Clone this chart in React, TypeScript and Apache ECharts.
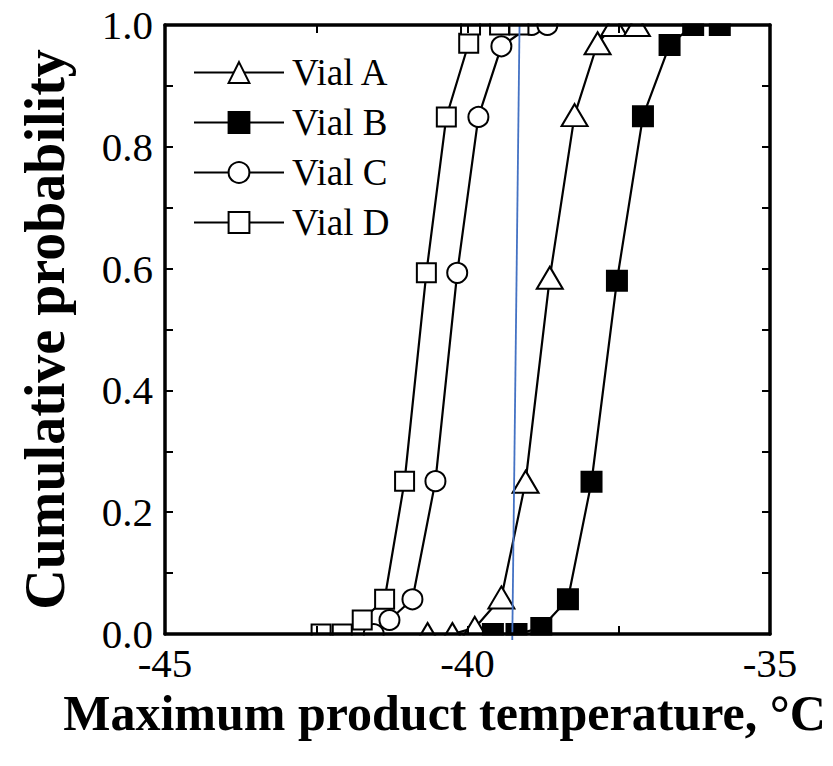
import React, { useEffect, useRef } from "react";
import * as echarts from "echarts";

const seriesNames = ["Vial A", "Vial B", "Vial C", "Vial D"];

const vialA: [number, number][] = [
  [-40.66, 0.0], [-40.25, 0.0], [-39.88, 0.01], [-39.44, 0.06], [-39.04, 0.25],
  [-38.64, 0.585], [-38.23, 0.852], [-37.85, 0.97], [-37.58, 1.0], [-37.2, 1.0],
];
const vialB: [number, number][] = [
  [-39.58, 0.0], [-39.19, 0.0], [-38.78, 0.01], [-38.34, 0.057], [-37.95, 0.25],
  [-37.53, 0.58], [-37.1, 0.85], [-36.66, 0.967], [-36.27, 1.0], [-35.83, 1.0],
];
const vialC: [number, number][] = [
  [-41.55, 0.0], [-41.29, 0.023], [-40.91, 0.057], [-40.53, 0.251], [-40.17, 0.593],
  [-39.82, 0.849], [-39.44, 0.965], [-38.94, 1.0], [-38.68, 1.0],
];
const vialD: [number, number][] = [
  [-42.42, 0.0], [-42.07, 0.0], [-41.74, 0.023], [-41.37, 0.057], [-41.04, 0.251],
  [-40.68, 0.593], [-40.35, 0.849], [-39.98, 0.97], [-39.95, 1.0], [-39.47, 1.0], [-39.15, 1.0],
];
const blueLine: [number, number][] = [[-39.14, 1.0], [-39.26, -0.01]];

const xMin = -45, xMax = -35, xStep = 2.5;
const yMin = 0, yMax = 1, yStep = 0.1;

const FONT = "'Liberation Serif', 'Times New Roman', serif";

export default function App() {
  const ref = useRef<HTMLDivElement>(null);
  useEffect(() => {
    if (!ref.current) return;
    const chart = echarts.init(ref.current, null, { renderer: "svg" });
    const lineStyle = { color: "#000", width: 2.2 };
    const mk = (name: string, data: [number, number][], symbol: string, size: any, fill: string) => ({
      name,
      type: "line",
      data,
      symbol,
      symbolSize: size,
      showAllSymbol: true,
      lineStyle,
      itemStyle: { color: fill, borderColor: "#000", borderWidth: 2 },
      z: 2,
    });
    const axisCommon = {
      axisLine: { show: true, onZero: false, lineStyle: { color: "#000", width: 3.5 } },
      axisTick: { show: true, inside: true, length: 8, lineStyle: { color: "#000", width: 2 } },
      splitLine: { show: false },
      z: 10,
    };
    chart.setOption({
      animation: false,
      backgroundColor: "#fff",
      grid: { left: 165, right: 63, top: 25, bottom: 132 },
      legend: {
        data: seriesNames.map((n) => ({ name: n })),
        orient: "vertical",
        left: 193,
        top: 54,
        padding: 0,
        itemWidth: 90,
        itemHeight: 26,
        itemGap: 13,
        textStyle: { fontFamily: FONT, fontSize: 37, color: "#000", lineHeight: 36, padding: [0, 0, 0, 3] },
      },
      xAxis: [
        {
          ...axisCommon,
          type: "value",
          min: xMin,
          max: xMax,
          interval: xStep,
          position: "bottom",
          name: "Maximum product temperature, °C",
          nameLocation: "middle",
          nameGap: 51,
          nameTextStyle: { fontFamily: FONT, fontSize: 50, fontWeight: "bold", color: "#000", padding: [0, 46, 0, 0] },
          axisLabel: {
            margin: 15,
            fontFamily: FONT,
            fontSize: 41,
            lineHeight: 28,
            color: "#000",
            formatter: (v: number) => (Math.abs(v % 5) < 1e-6 ? String(v) : ""),
          },
        },
        {
          ...axisCommon,
          type: "value",
          min: xMin,
          max: xMax,
          interval: xStep,
          position: "top",
          axisLabel: { show: false },
        },
      ],
      yAxis: [
        {
          ...axisCommon,
          type: "value",
          min: yMin,
          max: yMax,
          interval: yStep,
          position: "left",
          name: "Cumulative probability",
          nameLocation: "middle",
          nameGap: 92,
          nameTextStyle: { fontFamily: FONT, fontSize: 56, fontWeight: "bold", color: "#000" },
          axisLabel: {
            margin: 12,
            fontFamily: FONT,
            fontSize: 41,
            lineHeight: 28,
            color: "#000",
            formatter: (v: number) => (Math.round(v * 10) % 2 === 0 ? v.toFixed(1) : ""),
          },
        },
        {
          ...axisCommon,
          type: "value",
          min: yMin,
          max: yMax,
          interval: yStep,
          position: "right",
          axisLabel: { show: false },
        },
      ],
      series: [
        mk("Vial A", vialA, "triangle", [26, 22], "#fff"),
        mk("Vial B", vialB, "rect", 20, "#000"),
        mk("Vial C", vialC, "circle", 20, "#fff"),
        mk("Vial D", vialD, "rect", 19, "#fff"),
        {
          name: "marker",
          type: "line",
          data: blueLine,
          symbol: "none",
          clip: false,
          lineStyle: { color: "#4472C4", width: 1.8 },
          z: 8,
        },
      ],
    });
    const [lx, ty] = chart.convertToPixel({ xAxisIndex: 0, yAxisIndex: 0 }, [xMin, yMax]) as number[];
    const [rx, by] = chart.convertToPixel({ xAxisIndex: 0, yAxisIndex: 0 }, [xMax, yMin]) as number[];
    chart.setOption({
      graphic: [
        { type: "rect", z: 5, silent: true, shape: { x: lx - 2, y: 0, width: rx - lx + 4, height: ty - 1.5 }, style: { fill: "#fff" } },
        { type: "rect", z: 5, silent: true, shape: { x: lx - 2, y: by + 1.5, width: rx - lx + 4, height: 11 }, style: { fill: "#fff" } },
      ],
    });
    return () => chart.dispose();
  }, []);
  return <div ref={ref} style={{ position: "fixed", left: 0, top: 0, width: 833, height: 766 }} />;
}
